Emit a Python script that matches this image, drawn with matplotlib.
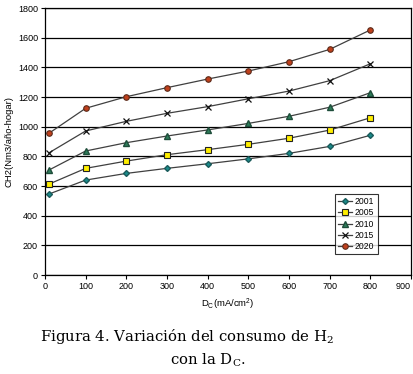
import matplotlib
matplotlib.use("Agg")
import matplotlib.pyplot as plt

# densidad de corriente (mA/cm2)
dc = [10, 100, 200, 300, 400, 500, 600, 700, 800]

# consumo de H2 por año (Nm3/año-hogar)
c2001 = [546, 640, 685, 719, 750, 783, 820, 867, 942]
c2005 = [613, 719, 768, 811, 845, 881, 922, 977, 1060]
c2010 = [708, 836, 892, 937, 978, 1022, 1070, 1131, 1229]
c2015 = [824, 971, 1036, 1090, 1135, 1188, 1240, 1310, 1424]
c2020 = [956, 1124, 1202, 1263, 1321, 1375, 1438, 1521, 1652]

fig = plt.figure(figsize=(4.14, 3.74), dpi=100)
ax = fig.add_axes([0.1087, 0.2647, 0.8841, 0.7139])

linea = dict(color="#404040", lw=0.9)
ax.plot(dc, c2001, marker="D", ms=3, mfc="#1a8a8a", mec="#1a5a5a", label="2001", **linea)
ax.plot(dc, c2005, marker="s", ms=4.5, mfc="#ffee00", mec="#222222", mew=0.8, label="2005", **linea)
ax.plot(dc, c2010, marker="^", ms=4, mfc="#2e7d5a", mec="#1e4d3a", label="2010", **linea)
ax.plot(dc, c2015, marker="x", ms=4, mec="#111111", mew=0.9, label="2015", **linea)
ax.plot(dc, c2020, marker="o", ms=4, mfc="#c0401c", mec="#5a2a1a", mew=0.8, label="2020", **linea)

ax.set_xlim(0, 900)
ax.set_ylim(0, 1800)
ax.set_xticks(range(0, 901, 100))
ax.set_yticks(range(0, 1801, 200))
ax.yaxis.grid(True, color="black", lw=0.9)
ax.set_axisbelow(True)
for s in ax.spines.values():
    s.set_linewidth(0.9)
ax.tick_params(labelsize=6.5, length=3, width=0.8, pad=2)
for t in ax.get_xticklabels() + ax.get_yticklabels():
    t.set_family("Liberation Sans")
ax.get_xticklabels()[-1].set_horizontalalignment("right")

ax.set_xlabel("D$_\\mathregular{C}$(mA/cm$^\\mathregular{2}$)", fontsize=6.8,
              family="Liberation Sans", labelpad=4)
ax.set_ylabel("CH2(Nm3/año-hogar)", fontsize=6.8, family="Liberation Sans", labelpad=3)

leg = ax.legend(loc="upper left", bbox_to_anchor=(0.78, 0.32), fontsize=6.2,
                frameon=True, fancybox=False, edgecolor="black", handlelength=1.6,
                handletextpad=0.3, borderpad=0.4, labelspacing=0.25,
                prop={"family": "Liberation Sans", "size": 6.2})
leg.get_frame().set_linewidth(0.8)

fig.text(0.452, 0.100, "Figura 4. Variación del consumo de H$_\\mathregular{2}$",
         ha="center", va="center", fontsize=10.7, family="DejaVu Serif")
fig.text(0.503, 0.036, "con la D$_\\mathregular{C}$.",
         ha="center", va="center", fontsize=10.7, family="DejaVu Serif")

fig.savefig("out.png", dpi=100)
